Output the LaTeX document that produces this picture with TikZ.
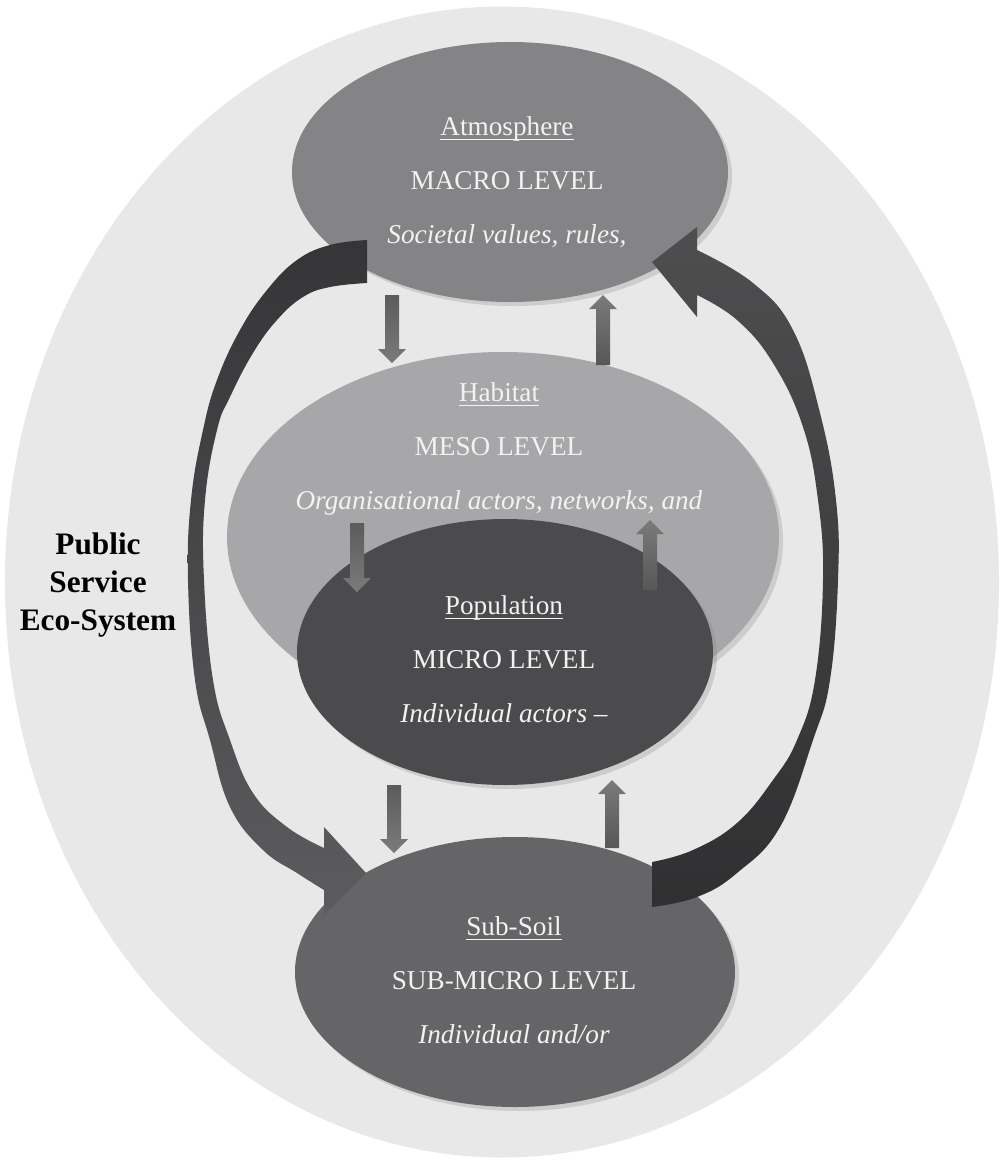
\documentclass[tikz,border=0pt]{standalone}
\usepackage{fontspec}
\setmainfont{Liberation Serif}
\usetikzlibrary{shapes.geometric,shadows,calc}

\definecolor{ecobg}{HTML}{E8E8E8}
\definecolor{atmofill}{HTML}{848486}
\definecolor{habfill}{HTML}{A7A7A9}
\definecolor{popfill}{HTML}{4B4B4D}
\definecolor{soilfill}{HTML}{656567}
\definecolor{arrdark}{HTML}{353537}
\definecolor{arrlight}{HTML}{A2A2A4}
\definecolor{arrmid}{HTML}{5C5C5E}

% underlined level name
\newcommand\lvltitle[1]{\setbox0\hbox{#1}\rlap{\rule[-2.6pt]{\wd0}{0.8pt}}\box0}
% straight block arrow: x, tail y, tip y, shading
\newcommand\blockarrow[4]{%
  \shade[#4] ({#1-7},#2) -- ({#1-7},{#3-14*sign(#3-#2)}) -- ({#1-14},{#3-14*sign(#3-#2)})
    -- (#1,#3) -- ({#1+14},{#3-14*sign(#3-#2)}) -- ({#1+7},{#3-14*sign(#3-#2)}) -- ({#1+7},#2) -- cycle;}

\begin{document}
\begin{tikzpicture}[x=0.2mm,y=-0.2mm,
    level/.style={ellipse,inner sep=0pt,drop shadow={opacity=0.25,shadow xshift=0.8mm,shadow yshift=-0.8mm}},
    lvltext/.style={text=white!95!black,align=center,font=\fontsize{15.5}{30.7}\selectfont},
    downshade/.style={top color=black!64,middle color=black!22,bottom color=black!52},
    upshade/.style={top color=black!52,middle color=black!22,bottom color=black!66}]
  \useasboundingbox (0,0) rectangle (1003,1160);

  \node[ellipse,fill=ecobg,inner sep=0pt,minimum width=198.8mm,minimum height=230.2mm] (eco) at (502,582) {};

  % the four levels
  \node[level,fill=atmofill,minimum width=87.2mm,minimum height=52mm] (atmo) at (510,172) {};
  \node[level,fill=habfill,minimum width=110.4mm,minimum height=74mm] (hab) at (503,537) {};
  \node[level,fill=popfill,minimum width=83.2mm,minimum height=53.2mm] (pop) at (505,652) {};
  \node[level,fill=soilfill,minimum width=88mm,minimum height=54mm] (soil) at (515,972) {};

  % big loop arrows
  \shade[top color=arrdark,middle color=arrlight,bottom color=arrmid]
    plot[smooth,tension=0.7] coordinates {(367,240) (330,245) (297,260) (267,290) (240,330) (217,380) (203,430) (191,500) (188,580) (195,680) (210,740) (230,807) (263,850) (297,873) (324,890)}
    -- (324,915) -- (366,873) -- (324,827) -- (324,848)
    -- plot[smooth,tension=0.7] coordinates {(324,848) (287,827) (253,793) (230,740) (213,680) (204,580) (205,500) (217,430) (230,397) (253,353) (277,320) (303,297) (330,287) (367,283)}
    -- cycle;
  \shade[top color=arrmid!85!black,middle color=arrlight,bottom color=arrdark!90!black]
    plot[smooth,tension=0.7] coordinates {(652,907) (697,897) (737,873) (780,827) (813,740) (830,680) (838,580) (836,500) (820,413) (793,330) (753,283) (697,250)}
    -- (697,227) -- (652,262) -- (697,317) -- (697,295)
    -- plot[smooth,tension=0.7] coordinates {(697,295) (737,320) (773,363) (803,427) (818,500) (823,580) (815,680) (797,740) (773,780) (737,823) (693,850) (652,862)}
    -- cycle;

  % small arrows between the levels
  \blockarrow{392}{295}{363}{downshade}
  \blockarrow{603}{365}{295}{upshade}
  \blockarrow{357}{523}{592}{downshade}
  \blockarrow{650}{590}{520}{upshade}
  \blockarrow{394}{785}{853}{downshade}
  \blockarrow{612}{848}{780}{upshade}

  \node[lvltext] (atmotxt) at (507,182) {\lvltitle{Atmosphere}\\ MACRO LEVEL\\ \textit{Societal values, rules,}};
  \node[lvltext] (habtxt) at (499,449) {\lvltitle{Habitat}\\ MESO LEVEL\\ \textit{Organisational actors, networks, and}};
  \node[lvltext] (poptxt) at (504,659) {\lvltitle{Population}\\ MICRO LEVEL\\ \textit{Individual actors –}};
  \node[lvltext] (soiltxt) at (514,980) {\lvltitle{Sub-Soil}\\ SUB-MICRO LEVEL\\ \textit{Individual and/or}};

  \node[align=center,font=\bfseries\fontsize{17.8}{21.6}\selectfont] (ecotxt) at (98,585) {Public\\ Service\\ Eco-System};
\end{tikzpicture}
\end{document}
